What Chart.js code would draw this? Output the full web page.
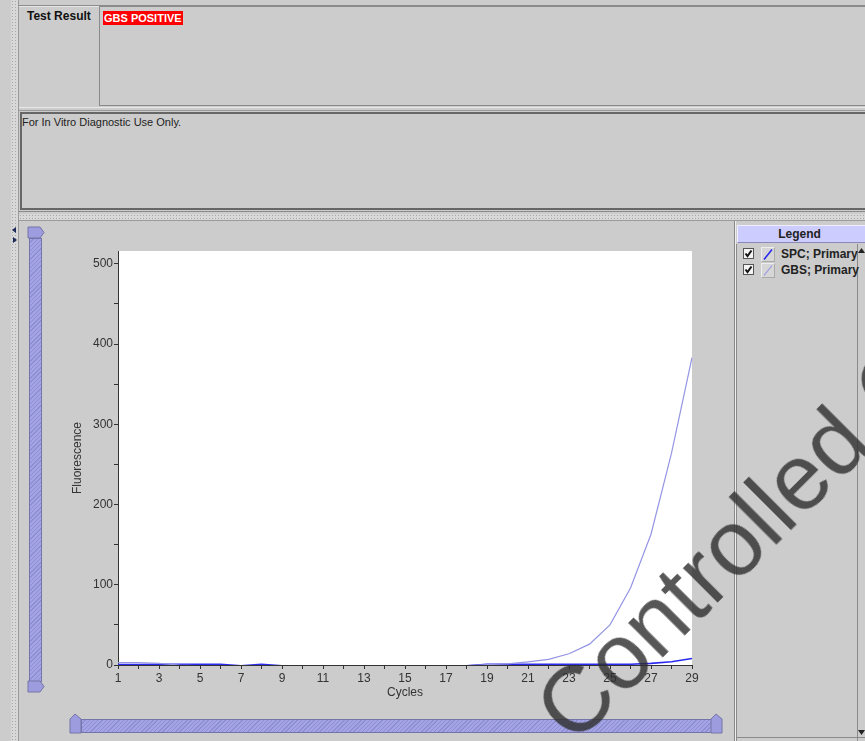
<!DOCTYPE html>
<html>
<head>
<meta charset="utf-8">
<script src="https://cdn.jsdelivr.net/npm/chart.js@4.4.1/dist/chart.umd.min.js"></script>
<style>
  html, body { margin: 0; padding: 0; }
  body {
    width: 865px; height: 741px; overflow: hidden; position: relative;
    background: #cccccc; font-family: Arial, "Liberation Sans", sans-serif; color: #222;
  }
  .abs { position: absolute; }
  .dots {
    background-color: #d8d8d8;
    background-image: radial-gradient(#a8a8a8 0.7px, transparent 0.9px);
    background-size: 3px 3px;
  }
  .hatch {
    background: repeating-linear-gradient(135deg, #a3a3e6 0px, #a3a3e6 2px, #8e8ed2 2px, #8e8ed2 3px);
    border: 1px solid #7474a8;
    box-sizing: border-box;
  }
  #chartbox { position: absolute; left: 66px; top: 240px; width: 660px; height: 464px; }
  #watermark {
    position: absolute; left: 519px; top: 691px;
    transform-origin: 0 0; transform: rotate(-45deg);
    font-size: 93px; line-height: 1; white-space: nowrap;
    color: rgba(45, 45, 45, 0.8); pointer-events: none; z-index: 10;
    font-family: Arial, "Liberation Sans", sans-serif;
  }
  .legrow { position: absolute; left: 743px; height: 15px; font-size: 12px; font-weight: bold; color: #222; }
  .chk {
    position: absolute; left: 0; top: 1px; width: 11px; height: 11px; box-sizing: border-box;
    background: #f4f4f4; border: 1px solid #555;
  }
  .ico {
    position: absolute; left: 18px; top: 0; width: 14px; height: 15px; box-sizing: border-box;
    background: #d6d6d6; border: 1px solid #eeeeee; border-right-color: #aaa; border-bottom-color: #aaa;
  }
  .lbl { position: absolute; left: 38px; top: 0; line-height: 15px; white-space: nowrap; }
</style>
</head>
<body>
<!-- left splitter strip -->
<div class="abs dots" style="left:11px;top:0;width:7px;height:741px;border-right:1px solid #9a9a9a;"></div>

<!-- top section -->
<div class="abs" style="left:19px;top:5px;width:846px;height:1px;background:#8c8c8c;"></div>
<div class="abs" style="left:19px;top:6px;width:846px;height:1px;background:#e6e6e6;"></div>
<div class="abs" style="left:27px;top:9px;font-size:12px;font-weight:bold;color:#111;">Test Result</div>
<div class="abs" style="left:99px;top:6px;width:780px;height:100px;box-sizing:border-box;border-left:1px solid #8a8a8a;border-top:1px solid #8a8a8a;border-bottom:1px solid #8a8a8a;"></div>
<div class="abs" style="left:103px;top:11px;height:14px;line-height:14px;padding:0 1px;background:#ff0000;color:#ffffff;font-size:11px;font-weight:bold;">GBS POSITIVE</div>
<div class="abs" style="left:19px;top:107px;width:846px;height:1px;background:#e8e8e8;"></div>
<div class="abs" style="left:19px;top:110px;width:846px;height:1px;background:#9a9a9a;"></div>
<div class="abs" style="left:20px;top:112px;width:860px;height:98px;box-sizing:border-box;border:2px solid #666666;border-right:none;"></div>
<div class="abs" style="left:22px;top:116px;font-size:11px;color:#222;">For In Vitro Diagnostic Use Only.</div>

<!-- horizontal splitter -->
<div class="abs" style="left:19px;top:211px;width:846px;height:1px;background:#8a8a8a;"></div>
<div class="abs dots" style="left:19px;top:214px;width:846px;height:6px;"></div>
<div class="abs" style="left:19px;top:220px;width:846px;height:1px;background:#9a9a9a;"></div>

<!-- one-touch arrows -->
<svg class="abs" style="left:11px;top:226px;" width="8" height="20">
  <polygon points="5,1 1,4 5,7" fill="#1c2a5a"/>
  <polygon points="2,11 6,14 2,17" fill="#1c2a5a"/>
</svg>

<!-- vertical slider -->
<div class="abs hatch" style="left:29px;top:238px;width:13px;height:444px;"></div>
<svg class="abs" style="left:27px;top:226px;" width="20" height="14">
  <polygon points="1,1 13,1 17,6.5 13,12 1,12" fill="#9c9cde" stroke="#7474a8"/>
</svg>
<svg class="abs" style="left:27px;top:680px;" width="20" height="14">
  <polygon points="1,1 13,1 17,6.5 13,12 1,12" fill="#9c9cde" stroke="#7474a8"/>
</svg>

<!-- horizontal slider -->
<div class="abs hatch" style="left:81px;top:719px;width:632px;height:14px;"></div>
<svg class="abs" style="left:68px;top:713px;" width="16" height="22">
  <polygon points="2,20 2,6 7,1 13,6 13,20" fill="#9c9cde" stroke="#7474a8"/>
</svg>
<svg class="abs" style="left:709px;top:713px;" width="16" height="22">
  <polygon points="2,20 2,6 7,1 13,6 13,20" fill="#9c9cde" stroke="#7474a8"/>
</svg>

<!-- chart -->
<div id="chartbox"><canvas id="pcr" width="660" height="464"></canvas></div>

<!-- legend panel -->
<div class="abs" style="left:734px;top:221px;width:1px;height:520px;background:#8a8a8a;"></div>
<div class="abs" style="left:735px;top:221px;width:1px;height:520px;background:#eeeeee;"></div>
<div class="abs" style="left:737px;top:225px;width:130px;height:18px;box-sizing:border-box;background:#ccccff;border-top:1px solid #eeeeff;border-left:1px solid #eeeeff;border-bottom:1px solid #8a8ab8;font-size:12px;font-weight:bold;color:#222;line-height:16px;text-align:center;padding-right:6px;">Legend</div>
<div class="abs" style="left:736px;top:244px;width:1px;height:497px;background:#8a8a8a;"></div>
<div class="abs" style="left:857px;top:244px;width:1px;height:497px;background:#8a8a8a;"></div>
<div class="abs" style="left:736px;top:737px;width:129px;height:1px;background:#8a8a8a;"></div>
<svg class="abs" style="left:858px;top:246px;" width="7" height="10"><polygon points="3.5,2 7,7 0,7" fill="#222"/></svg>
<svg class="abs" style="left:858px;top:727px;" width="7" height="10"><polygon points="0,3 7,3 3.5,8" fill="#222"/></svg>
<div id="legend"></div>

<div id="watermark">Controlled Copy</div>

<script>
// cycles on the x axis
const cycles = [1, 2, 3, 4, 5, 6, 7, 8, 9, 10, 11, 12, 13, 14, 15, 16, 17, 18, 19, 20, 21, 22, 23, 24, 25, 26, 27, 28, 29];
// fluorescence
const spc = [0.5, 0.5, 1, 1, 1, 1, -1, 1, -1, -1, -1, -1, -1, -1, -1, -1, -1, -1, 1, 1, 1, 1, 1, 1, 1, 1, 2, 4, 8];
const gbs = [3, 3, 2, 0, -1, -1, -1, -1, -1, -1, -1, -1, -1, -1, -1, -1, -1, -1, 0.5, 1.5, 4, 7, 14, 26, 50, 96, 163, 264, 383];
// y tick marks (labels only on the hundreds)
const yTicks = [0, 50, 100, 150, 200, 250, 300, 350, 400, 450, 500];
const seriesNames = ['SPC; Primary', 'GBS; Primary'];
const seriesColors = ['#2a2af0', '#9494e4'];

const whiteArea = {
  id: 'whiteArea',
  beforeDraw (chart) {
    const a = chart.chartArea
    const ctx = chart.ctx
    ctx.save()
    ctx.fillStyle = '#ffffff'
    ctx.fillRect(a.left, a.top, a.right - a.left, a.bottom - a.top)
    ctx.restore()
  }
}

new Chart(document.getElementById('pcr'), {
  type: 'line',
  data: {
    labels: cycles,
    datasets: [
      { label: seriesNames[1], data: gbs, borderColor: seriesColors[1], borderWidth: 1.2, pointRadius: 0, tension: 0 },
      { label: seriesNames[0], data: spc, borderColor: seriesColors[0], borderWidth: 1.6, pointRadius: 0, tension: 0 }
    ]
  },
  options: {
    responsive: false,
    animation: false,
    layout: { padding: { top: 11, right: 34, left: 0, bottom: 0 } },
    plugins: { legend: { display: false }, tooltip: { enabled: false } },
    scales: {
      x: {
        type: 'category',
        offset: false,
        afterFit (scale) { scale.height = 39 },
        grid: { drawOnChartArea: false, drawTicks: true, tickLength: 4, color: '#333' },
        border: { display: true, color: '#333', width: 1 },
        ticks: {
          autoSkip: false, maxRotation: 0, padding: 2, color: '#333',
          font: { family: 'Arial, "Liberation Sans", sans-serif', size: 12 },
          callback (val, i) { return i % 2 === 0 ? cycles[i] : '' }
        },
        title: { display: true, text: 'Cycles', color: '#333', padding: { top: 0, bottom: 4 },
          font: { family: 'Arial, "Liberation Sans", sans-serif', size: 12 } }
      },
      y: {
        min: 0,
        max: 516,
        afterFit (scale) { scale.width = 52 },
        afterBuildTicks (scale) { scale.ticks = yTicks.map(v => ({ value: v })) },
        grid: { drawOnChartArea: false, drawTicks: true, tickLength: 4, color: '#333' },
        border: { display: true, color: '#333', width: 1 },
        ticks: {
          padding: 1, color: '#333',
          font: { family: 'Arial, "Liberation Sans", sans-serif', size: 12 },
          callback (v) { return v % 100 === 0 ? v : '' }
        },
        title: { display: true, text: 'Fluorescence', color: '#333', padding: { top: 4, bottom: 0 },
          font: { family: 'Arial, "Liberation Sans", sans-serif', size: 12 } }
      }
    }
  },
  plugins: [whiteArea]
})

// HTML legend rows built from the series names and colours
const legend = document.getElementById('legend')
seriesNames.forEach((name, i) => {
  const row = document.createElement('div')
  row.className = 'legrow'
  row.style.top = (247 + i * 16) + 'px'
  row.innerHTML =
    '<div class="chk"><svg width="9" height="9" style="position:absolute;left:0;top:0"><polyline points="1.5,4.5 3.5,7 7.5,1.5" fill="none" stroke="#111" stroke-width="2"/></svg></div>' +
    '<div class="ico"><svg width="12" height="13" style="position:absolute;left:0;top:0"><line x1="2" y1="11.5" x2="10" y2="1.5" stroke="' + seriesColors[i] + '" stroke-width="' + (i === 0 ? 1.6 : 1.1) + '"/></svg></div>' +
    '<div class="lbl">' + name + '</div>'
  legend.appendChild(row)
})
</script>
</body>
</html>
